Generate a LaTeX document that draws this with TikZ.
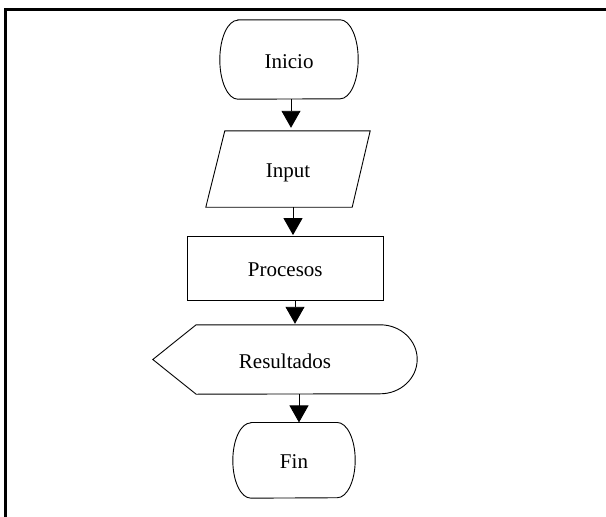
\documentclass[tikz,border=0pt]{standalone}
\usepackage{fontspec}
\setmainfont{Liberation Serif}
\usetikzlibrary{arrows.meta,calc}

\tikzset{
  box/.style={inner sep=0pt, minimum width=#1, text height=17pt, text depth=0pt,
              font=\fontsize{21}{25}\selectfont},
  outline/.style={draw=black, line width=0.9pt},
  conn/.style={draw=black, line width=0.9pt, -{Triangle[width=19pt,length=17pt]}},
  frame/.style={draw=black, line width=2.5pt}
}

\begin{document}
\begin{tikzpicture}[x=1pt,y=1pt]
\useasboundingbox (0,0) rectangle (606,-517);

% page frame (top and left edges)
\draw[frame] (5.3,-517) -- (5.3,-9.5) -- (606,-9.5);

% nodes carry the text; outlines are drawn around them
\node[box=138pt, minimum height=79pt]   (inicio) at (289,-59.5)   {Inicio};
\node[box=164pt, minimum height=76pt]   (input)  at (288,-169)    {Input};
\node[box=196pt, minimum height=64pt]   (proc)   at (285.3,-268.3) {Procesos};
\node[box=264pt, minimum height=69pt]   (res)    at (285,-359.5)  {Resultados};
\node[box=122pt, minimum height=75.3pt] (fin)    at (294,-460.3)  {Fin};

% terminator: Inicio
\draw[outline] ([xshift=18pt]inicio.north west) -- ([xshift=-18pt]inicio.north east)
  arc[start angle=90, end angle=-90, x radius=18pt, y radius=39.5pt]
  -- ([xshift=18pt]inicio.south west)
  arc[start angle=270, end angle=90, x radius=18pt, y radius=39.5pt] -- cycle;

% data: Input
\draw[outline] ([xshift=19pt]input.north west) -- (input.north east)
  -- ([xshift=-18pt]input.south east) -- (input.south west) -- cycle;

% process: Procesos
\draw[outline] (proc.north west) rectangle (proc.south east);

% display: Resultados
\draw[outline] (res.west) -- ([xshift=43.3pt]res.north west) -- ([xshift=-37pt]res.north east)
  arc[start angle=90, end angle=-90, x radius=37pt, y radius=34.5pt]
  -- ([xshift=43.3pt]res.south west) -- cycle;

% terminator: Fin
\draw[outline] ([xshift=18pt]fin.north west) -- ([xshift=-18pt]fin.north east)
  arc[start angle=90, end angle=-90, x radius=18pt, y radius=37.65pt]
  -- ([xshift=18pt]fin.south west)
  arc[start angle=270, end angle=90, x radius=18pt, y radius=37.65pt] -- cycle;

% connectors
\draw[conn, shorten >=3pt] ([xshift=2pt]inicio.south) -- ([xshift=2pt]inicio.south |- input.north);
\draw[conn, shorten >=1pt] ([xshift=5pt]input.south) -- ([xshift=5pt]input.south |- proc.north);
\draw[conn, shorten >=1pt] ([xshift=9.7pt]proc.south) -- ([xshift=9.7pt]proc.south |- res.north);
\draw[conn] ([xshift=14pt]res.south) -- ([xshift=14pt]res.south |- fin.north);
\end{tikzpicture}
\end{document}
